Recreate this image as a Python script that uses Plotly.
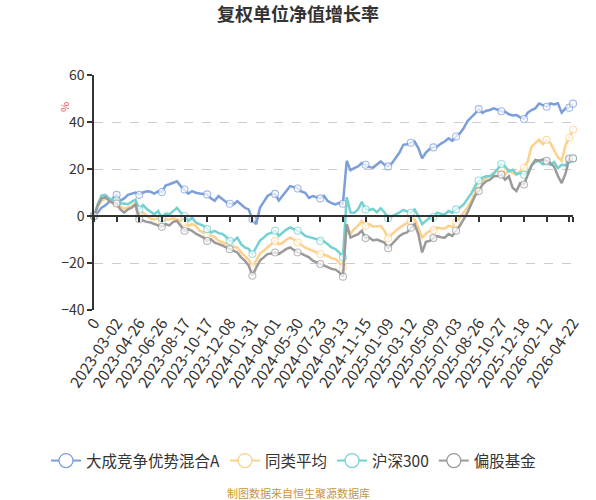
import plotly.graph_objects as go

# ---------------- data ----------------
tick_labels = ["0", "2023-03-02", "2023-04-26", "2023-06-26", "2023-08-17", "2023-10-17",
               "2023-12-08", "2024-01-31", "2024-04-01", "2024-05-30", "2024-07-23",
               "2024-09-13", "2024-11-15", "2025-01-09", "2025-03-12", "2025-05-09",
               "2025-07-03", "2025-08-26", "2025-10-27", "2025-12-18", "2026-02-12",
               "2026-04-22"]

series_names = ["大成竞争优势混合A", "同类平均", "沪深300", "偏股基金"]

fund = [0, 1.5, 3.5, 4.5, 6, 7.5, 9, 6.5, 7.5, 9, 9.5, 10, 9, 10, 10.5, 10.3, 9.5, 10.5, 10.2, 13,
        13.5, 14.3, 14.8, 12.7, 11.3, 9.5, 10.6, 9.9, 9.6, 9.4, 9.2, 7.5, 6.5, 8.5, 7.2, 6, 5.2, 4.9,
        6.3, 4.9, 3.5, 2.8, -1.4, -3.5, 3.5, 6, 8.5, 9.5, 9.4, 6.6, 8.5, 10.5, 12.7, 12.3, 11.7, 10.4,
        9.9, 7.7, 8.5, 8, 7.5, 8.5, 6.3, 5.5, 4.9, 5.6, 5.2, 23.5, 19.5, 20.4, 21.1, 22.5, 21.8, 20.8,
        20.6, 21.8, 23.2, 21.8, 21.1, 22.5, 24.5, 27, 30.3, 30.5, 31.2, 31.7, 28.9, 24.5, 27, 28.5,
        29.2, 29.5, 30.8, 31.7, 33.1, 32, 33.8, 35.2, 37.3, 40.3, 42, 43.5, 45.5, 43.9, 44.8, 45.1,
        45.8, 45.2, 44.6, 44.4, 43.3, 42.8, 43, 42, 41.3, 44, 45.1, 45.8, 47.9, 47.2, 46.5, 47.9,
        47.5, 48, 44, 45.8, 46.1, 47.8]

peer_avg = [0, 4, 6.5, 7.5, 7, 5.5, 5.5, 4, 3, 3.5, 4.2, 5.5, 0.5, 1.5, 0, -1, -1.5, -1, -2.5, -1.5,
            -1.5, -1, -1.5, -2.1, -2.5, -4.2, -3.5, -4.2, -6.3, -7, -7.7, -8.5, -9, -10.5, -11, -11.8,
            -12.7, -13, -13.4, -15.5, -17, -18.5, -21.8, -19, -16, -14.8, -13.4, -12, -10.6, -12,
            -11.5, -10, -9.2, -10, -11.3, -12.5, -13.5, -14.1, -14.8, -15.5, -16.2, -16.5, -17, -18,
            -18.3, -19.7, -21.8, -3.5, -7.7, -5.5, -4.2, -2.1, -4.2, -3.5, -4.5, -4.5, -4.2, -6.3,
            -9.4, -7.7, -6.3, -5, -4, -3, -2, -1.4, -4.9, -9.2, -7.5, -6.3, -6, -4.9, -5.3, -5.3,
            -4.2, -4.6, -2.8, -0.7, 1.4, 3.5, 6.5, 10, 13.4, 14.8, 16.2, 17, 18.5, 19.3, 19.7, 17.6,
            19.7, 18.3, 17.5, 19, 20.4, 23.2, 29.5, 31, 32.5, 30.5, 32.4, 31, 28.2, 25, 23.5, 30,
            33.4, 36.8]

hs300 = [0, 5, 8.7, 9, 7.5, 6.8, 6.6, 5.3, 5.3, 5, 6, 7, 2.8, 4.6, 3, 1.8, 0.7, 2.1, -1, 1, 0.7,
         2.1, 3.5, 1.4, 0, -2.1, -0.7, -2.8, -3.5, -4.2, -5.6, -7, -6.3, -7.3, -7.6, -8.8, -10.6,
         -10.6, -9.2, -12, -13.4, -14, -16.2, -13, -10.5, -9.2, -7.7, -7.2, -6.3, -8.5, -7, -5.8,
         -4.9, -5.5, -6.3, -7, -8.5, -9, -9.4, -9.9, -10.6, -10.8, -12, -13.4, -14.1, -15.5, -17.6,
         8, 1.5, 1.4, 2.8, 6, 2.8, 2.6, 3, 1.6, 3.3, 1.6, -1, 0, 0.7, 1.5, 2.6, 2, 1.4, 2.8, 0,
         -3.5, -2.1, -0.7, -0.4, 1.4, 0.9, 0.7, 2.1, 1.4, 2.8, 3.5, 4.9, 7, 9.5, 12.5, 15.1, 16.3,
         16.9, 17, 18, 20, 22.1, 21.1, 19, 19.7, 17.8, 18.3, 17.6, 18.5, 21.5, 23, 23.5, 22, 23.2,
         21.8, 23, 20.4, 21.8, 21.5, 23.9, 24.4]

equity_funds = [0, 4.5, 7.5, 8, 6.5, 5.5, 5.3, 2.8, 1.4, 2.8, 3.5, 4.9, -1.4, -2.1, -2.5, -2.8, -3.5,
                -3.9, -4.6, -3.5, -4, -2.5, -2.1, -4.2, -6.3, -5.6, -6.3, -7.5, -8.5, -9.2, -10.6,
                -9.9, -11.3, -11.8, -12.5, -13.4, -14.1, -14.8, -15.5, -17.6, -19, -21, -25.4, -22,
                -19, -17.6, -16.2, -16, -15.5, -16.2, -15, -14, -13.4, -14.5, -15.5, -16, -16.8,
                -17.6, -19, -19.7, -20.4, -21, -21.8, -22.5, -22.8, -23.9, -25.8, -3.5, -9.2, -8.5,
                -7.7, -6.3, -9.4, -9.2, -10.4, -10, -10.6, -11.3, -13.7, -12, -10.6, -8.5, -7.5, -7,
                -5, -3.5, -7.7, -15.5, -11, -10.6, -9.4, -8.5, -9, -9.2, -7.7, -8.5, -6.3, -4.2, -1.4,
                1.4, 5, 8.5, 10.6, 13.4, 14.8, 15.5, 16.9, 17, 17.6, 15.5, 16.9, 12, 10.6, 14, 13.4,
                17.5, 21.5, 23.9, 23.5, 24, 23.5, 22.5, 21, 17, 14, 18, 24.4, 24.6]

# ---------------- styling ----------------
colors = ["#7c9fdb", "#fdd08c", "#73d1d1", "#9a9a9a"]
FONT = "Noto Sans CJK SC, Noto Sans, sans-serif"
STEP = 6  # samples between labelled ticks

all_series = [fund, peer_avg, hs300, equity_funds]
n = len(fund)
x = list(range(n))
last = n - 1
label_pos = [k * STEP for k in range(len(tick_labels) - 1)] + [last]
tick_pos = list(range(0, last + 1, STEP)) + [last]
marker_sizes = [7 if (i % STEP == 0 or i == last) else 0 for i in x]

fig = go.Figure()
for name, ys, c in zip(series_names, all_series, colors):
    fig.add_trace(go.Scatter(
        x=x, y=ys, mode="lines+markers", name=name, showlegend=False,
        line=dict(color=c, width=2.5),
        marker=dict(size=marker_sizes, color="white", symbol="circle",
                    line=dict(color=c, width=1.1)),
        cliponaxis=False, hoverinfo="skip"))

# legend entries
for name, c in zip(series_names, colors):
    fig.add_trace(go.Scatter(
        x=[None], y=[None], mode="lines+markers", name=name, showlegend=True,
        line=dict(color=c, width=2),
        marker=dict(size=14, color="white", line=dict(color=c, width=1.3))))

# helper trace to carry the zero-level axis with ticks
fig.add_trace(go.Scatter(x=[0], y=[None], xaxis="x2", yaxis="y", showlegend=False,
                         mode="markers", hoverinfo="skip"))

PW = 596 - 94 - 23  # plot width in px
fig.update_layout(
    width=596, height=500,
    margin=dict(l=94, r=23, t=75, b=190, autoexpand=False),
    paper_bgcolor="white", plot_bgcolor="white",
    font=dict(family=FONT, color="#333333"),
    title=dict(text="<b>复权单位净值增长率</b>", x=0.5, xref="container", xanchor="center",
               y=1 - 15 / 500, yref="container", yanchor="middle",
               font=dict(size=18, color="#333333", family=FONT)),
    xaxis=dict(range=[0, last], tickmode="array", tickvals=label_pos, ticktext=tick_labels,
               tickangle=-56, tickfont=dict(size=15.5, color="#333333"), showgrid=False,
               zeroline=False, showline=False, ticks="", automargin=False),
    xaxis2=dict(range=[0, last], overlaying="x", anchor="free", position=0.4, side="bottom",
                tickmode="array", tickvals=tick_pos, showticklabels=False, ticks="outside",
                ticklen=5, tickwidth=1.5, tickcolor="#333333", showline=True,
                linecolor="#333333", linewidth=1.5, showgrid=False, zeroline=False),
    yaxis=dict(range=[-40, 60], tickmode="array", tickvals=[-40, -20, 0, 20, 40, 60],
               showline=True, linecolor="#333333", linewidth=1.5, ticks="outside", ticklen=5,
               tickwidth=1.5, tickcolor="#333333", showgrid=True, gridcolor="#cccccc",
               griddash="dash", gridwidth=1, zeroline=False, automargin=False,
               tickfont=dict(size=14, color="#333333")),
    legend=dict(orientation="h", x=(46 - 94) / PW, xanchor="left",
                y=(310 - 461) / 235, yanchor="middle", tracegroupgap=0,
                font=dict(size=15.5, color="#333333", family=FONT), itemwidth=30),
    annotations=[
        dict(text="%", x=(54 - 94) / PW, y=(310 - 100) / 235, xref="paper", yref="paper",
             showarrow=False, textangle=-90,
             font=dict(size=11, color="#f05050", family=FONT)),
        dict(text="制图数据来自恒生聚源数据库", x=(298 - 94) / PW, xref="paper",
             y=(310 - 493) / 235, yref="paper", showarrow=False, yanchor="middle",
             font=dict(size=11, color="#c8963c", family=FONT)),
    ],
)

fig.write_html("out.html")
